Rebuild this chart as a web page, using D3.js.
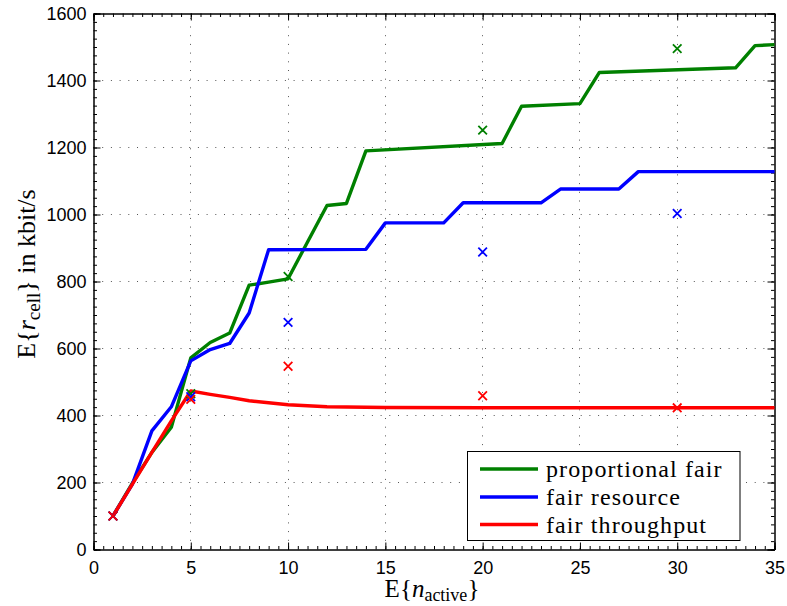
<!DOCTYPE html>
<html>
<head>
<meta charset="utf-8">
<script src="https://cdn.jsdelivr.net/npm/d3@7"></script>
<style>
  body { margin: 0; background: #fff; }
  svg { display: block; }
</style>
</head>
<body>
<div id="chart"></div>
<script>
// tick values
var xTicks = [0, 5, 10, 15, 20, 25, 30, 35];
var yTicks = [0, 200, 400, 600, 800, 1000, 1200, 1400, 1600];

// curves (breakpoints)
var pfX = [1, 2, 3, 4, 5, 6, 7, 8, 9, 10, 11, 12, 13, 14, 21, 22, 25, 26, 33, 34, 35];
var pfY = [100, 198, 290, 365, 572, 618, 646, 789, 798, 808, 918, 1027, 1033, 1190, 1212, 1323, 1331, 1424, 1438, 1504, 1507];

var frX = [1, 2, 3, 4, 5, 6, 7, 8, 9, 14, 15, 18, 19, 23, 24, 27, 28, 35];
var frY = [100, 195, 354, 426, 563, 597, 615, 706, 895, 896, 975, 975, 1035, 1035, 1076, 1076, 1128, 1128];

var ftX = [1, 2, 3, 4, 5, 6, 7, 8, 10, 12, 15, 20, 35];
var ftY = [100, 195, 290, 384, 473, 463, 454, 444, 432, 426, 424, 423, 423];

// simulated points (x markers)
var markX = [1, 5, 10, 20, 30];
var pfMarks = [100, 465, 815, 1252, 1495];
var frMarks = [100, 456, 678, 888, 1003];
var ftMarks = [100, 448, 547, 459, 423];

var seriesNames = ["proportional fair", "fair resource", "fair throughput"];
var seriesColors = ["#008000", "#0000ff", "#ff0000"];

var _width = 787, _height = 606;
var pLeft = 93.5, pRight = 774.5, pTop = 13.5, pBottom = 549.5;

var svg = d3.select("#chart").append("svg")
	.attr("width", _width)
	.attr("height", _height);

var x = d3.scaleLinear().domain([0, 35]).range([pLeft, pRight]);
var y = d3.scaleLinear().domain([0, 1600]).range([pBottom, pTop]);

//
// grid
//
var grid = svg.append("g").attr("class", "grid")
	.attr("stroke", "#555")
	.attr("stroke-width", 1)
	.attr("stroke-dasharray", "1,7.7");

grid.selectAll(".gx")
	.data(xTicks.slice(1, -1))
	.enter()
	.append("line")
	.attr("x1", function(d) { return Math.round(x(d) - 0.5) + 0.5; })
	.attr("x2", function(d) { return Math.round(x(d) - 0.5) + 0.5; })
	.attr("y1", pBottom)
	.attr("y2", pTop);

grid.selectAll(".gy")
	.data(yTicks.slice(1, -1))
	.enter()
	.append("line")
	.attr("y1", function(d) { return Math.round(y(d) - 0.5) + 0.5; })
	.attr("y2", function(d) { return Math.round(y(d) - 0.5) + 0.5; })
	.attr("x1", pLeft)
	.attr("x2", pRight);

//
// axes (ticks inside, on all four sides)
//
var xMinor = d3.range(0, 35.01, 0.5);
var yMinor = d3.range(0, 1600.1, 25);

svg.append("g")
	.attr("transform", "translate(0," + pBottom + ")")
	.call(d3.axisBottom(x).tickValues(xMinor).tickSize(-3.5).tickFormat(""));
svg.append("g")
	.attr("transform", "translate(0," + pTop + ")")
	.call(d3.axisTop(x).tickValues(xMinor).tickSize(-3.5).tickFormat(""));
svg.append("g")
	.attr("transform", "translate(" + pLeft + ",0)")
	.call(d3.axisLeft(y).tickValues(yMinor).tickSize(-3.5).tickFormat(""));
svg.append("g")
	.attr("transform", "translate(" + pRight + ",0)")
	.call(d3.axisRight(y).tickValues(yMinor).tickSize(-3.5).tickFormat(""));

svg.append("g")
	.attr("transform", "translate(0," + pBottom + ")")
	.call(d3.axisBottom(x).tickValues(xTicks).tickSize(-7).tickPadding(12).tickFormat(d3.format("d")));
svg.append("g")
	.attr("transform", "translate(0," + pTop + ")")
	.call(d3.axisTop(x).tickValues(xTicks).tickSize(-7).tickFormat(""));
svg.append("g")
	.attr("transform", "translate(" + pLeft + ",0)")
	.call(d3.axisLeft(y).tickValues(yTicks).tickSize(-7).tickPadding(7).tickFormat(d3.format("d")));
svg.append("g")
	.attr("transform", "translate(" + pRight + ",0)")
	.call(d3.axisRight(y).tickValues(yTicks).tickSize(-7).tickFormat(""));

svg.selectAll(".domain").attr("stroke", "#000");
svg.selectAll(".tick line").attr("stroke", "#000");
svg.selectAll(".tick text")
	.attr("font-family", "'Liberation Sans', Arial, sans-serif")
	.attr("font-size", 18)
	.attr("fill", "#000");

//
// curves
//
var line = d3.line()
	.x(function(d) { return x(d[0]); })
	.y(function(d) { return y(d[1]); });

var curves = [d3.zip(pfX, pfY), d3.zip(frX, frY), d3.zip(ftX, ftY)];
var marks = [d3.zip(markX, pfMarks), d3.zip(markX, frMarks), d3.zip(markX, ftMarks)];

svg.append("g").attr("class", "curves")
	.selectAll("path")
	.data(curves)
	.enter()
	.append("path")
	.attr("d", line)
	.attr("fill", "none")
	.attr("stroke", function(d, i) { return seriesColors[i]; })
	.attr("stroke-width", 3.4)
	.attr("stroke-linejoin", "round");

var ms = 4.3;
marks.forEach(function(pts, i) {
	svg.append("g").attr("class", "marks")
		.selectAll("path")
		.data(pts)
		.enter()
		.append("path")
		.attr("d", function(d) {
			var cx = x(d[0]), cy = y(d[1]);
			return "M" + (cx - ms) + "," + (cy - ms) + "L" + (cx + ms) + "," + (cy + ms) +
				"M" + (cx - ms) + "," + (cy + ms) + "L" + (cx + ms) + "," + (cy - ms);
		})
		.attr("stroke", seriesColors[i])
		.attr("stroke-width", 1.8)
		.attr("fill", "none");
});

//
// axis labels
//
var serif = "'Liberation Serif', 'Times New Roman', serif";

var xl = svg.append("text")
	.attr("x", 432)
	.attr("y", 597)
	.attr("text-anchor", "middle")
	.attr("font-family", serif)
	.attr("font-size", 25);
xl.append("tspan").text("E{");
xl.append("tspan").attr("font-style", "italic").text("n");
xl.append("tspan").attr("font-size", 18).attr("dy", 4).text("active");
xl.append("tspan").attr("dy", -4).text("}");

var yl = svg.append("text")
	.attr("transform", "translate(35,274) rotate(-90)")
	.attr("text-anchor", "middle")
	.attr("font-family", serif)
	.attr("font-size", 26);
yl.append("tspan").text("E{");
yl.append("tspan").attr("font-style", "italic").text("r");
yl.append("tspan").attr("font-size", 19).attr("dy", 5).text("cell");
yl.append("tspan").attr("dy", -5).text("} in kbit/s");

//
// legend
//
var legend = svg.append("g").attr("class", "legend");
legend.append("rect")
	.attr("x", 467.5)
	.attr("y", 451.5)
	.attr("width", 272.5)
	.attr("height", 89)
	.attr("fill", "#fff")
	.attr("stroke", "#000")
	.attr("stroke-width", 1);

var rowY = [469, 497, 524.5];
var rows = legend.selectAll(".row")
	.data(seriesNames)
	.enter()
	.append("g")
	.attr("transform", function(d, i) { return "translate(0," + rowY[i] + ")"; });

rows.append("line")
	.attr("x1", 480)
	.attr("x2", 538)
	.attr("stroke", function(d, i) { return seriesColors[i]; })
	.attr("stroke-width", 3.4);

rows.append("text")
	.attr("x", 546)
	.attr("y", 8)
	.attr("font-family", serif)
	.attr("font-size", 24)
	.attr("letter-spacing", 1.1)
	.text(function(d) { return d; });
</script>
</body>
</html>
